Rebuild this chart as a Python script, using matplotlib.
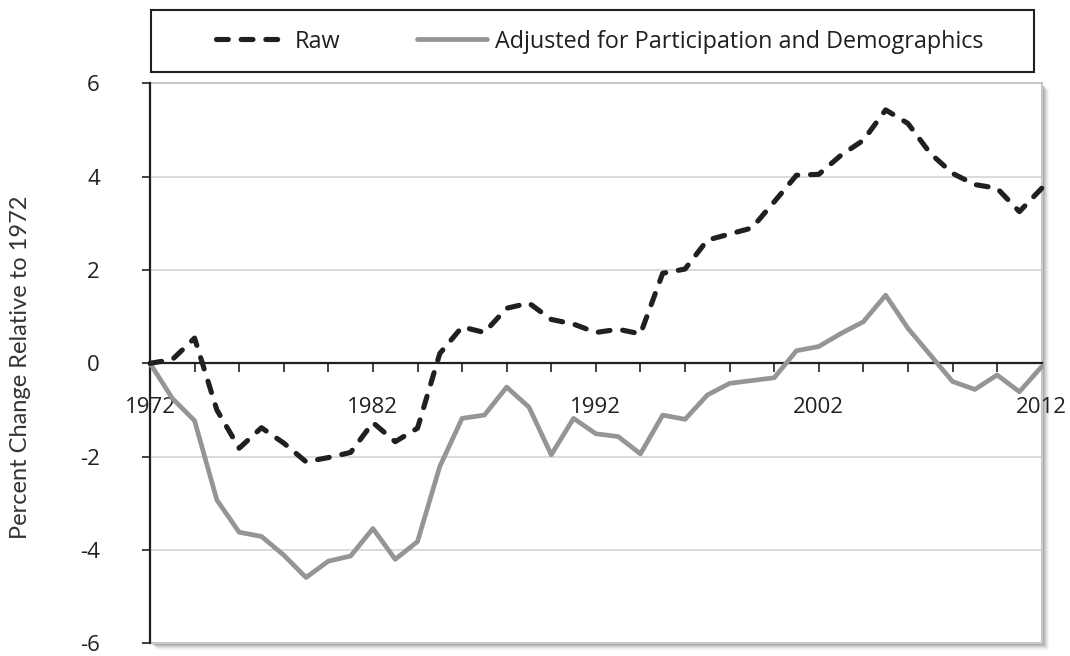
import numpy as np
import matplotlib
matplotlib.use("Agg")
import matplotlib.pyplot as plt
from matplotlib.patches import Rectangle
from matplotlib.ticker import MultipleLocator, FixedLocator

years = np.arange(1972, 2013)

raw = [0.00, 0.08, 0.54, -1.00, -1.82, -1.38, -1.71, -2.11, -2.02, -1.91,
       -1.27, -1.68, -1.39, 0.21, 0.78, 0.66, 1.18, 1.29, 0.94, 0.84,
       0.66, 0.73, 0.63, 1.93, 2.02, 2.64, 2.77, 2.90, 3.46, 4.03,
       4.05, 4.46, 4.78, 5.43, 5.14, 4.50, 4.07, 3.83, 3.75, 3.25,
       3.75]

adjusted = [0.00, -0.75, -1.23, -2.93, -3.62, -3.71, -4.11, -4.59, -4.24, -4.13,
            -3.54, -4.20, -3.82, -2.21, -1.18, -1.11, -0.51, -0.94, -1.96, -1.18,
            -1.51, -1.57, -1.94, -1.11, -1.20, -0.68, -0.43, -0.37, -0.31, 0.27,
            0.36, 0.64, 0.89, 1.46, 0.75, 0.18, -0.39, -0.56, -0.25, -0.61,
            -0.07]

label_years = [1972, 1982, 1992, 2002, 2012]
series_names = ["Raw", "Adjusted for Participation and Demographics"]

W, H = 1070, 656
plt.rcParams['font.family'] = ['Open Sans', 'DejaVu Sans']
plt.rcParams['axes.unicode_minus'] = False
fig = plt.figure(figsize=(W / 100, H / 100), dpi=100)

# plot area in pixels
L, R, T, B = 150, 1041.7, 83.3, 643.3
ax = fig.add_axes([L / W, 1 - B / H, (R - L) / W, (B - T) / H])

# drop shadow behind the plot area
for i, a in zip(range(1, 9), [0.22, 0.2, 0.17, 0.14, 0.1, 0.07, 0.04, 0.02]):
    fig.patches.append(Rectangle(((L + i) / W, 1 - (B + i) / H), (R - L) / W, (B - T) / H,
                                 transform=fig.transFigure, facecolor='#707070',
                                 edgecolor='none', alpha=a, zorder=-10))

black = '#231f20'
grey = '#939598'

ln_raw, = ax.plot(years, raw, color=black, lw=3.7, solid_capstyle='round',
                  dash_capstyle='round', clip_on=False, zorder=4)
ln_raw.set_dashes((2.3, 2.5))
ln_adj, = ax.plot(years, adjusted, color=grey, lw=3.4, solid_capstyle='round',
                  clip_on=False, zorder=3)

ax.set_xlim(1972, 2012)
ax.set_ylim(-6, 6)

for y in [-4, -2, 2, 4]:
    ax.axhline(y, color='#d4d4d4', lw=1.2, zorder=1)

ax.add_patch(Rectangle((0, 0), 1, 1, transform=ax.transAxes, fill=False,
                       edgecolor='#c8c8c8', lw=1.5, zorder=2, clip_on=False))

for s in ['top', 'right']:
    ax.spines[s].set_visible(False)
ax.spines['bottom'].set_position(('data', 0))
ax.spines['bottom'].set_color(black)
ax.spines['bottom'].set_linewidth(1.6)
ax.spines['bottom'].set_zorder(2.5)
ax.spines['left'].set_color(black)
ax.spines['left'].set_linewidth(1.6)

ax.yaxis.set_major_locator(MultipleLocator(2))
ax.xaxis.set_major_locator(FixedLocator(label_years))
ax.xaxis.set_minor_locator(MultipleLocator(2))
ax.set_xticklabels([str(y) for y in label_years])

ax.tick_params(axis='x', which='both', direction='out', length=6.5, width=1.2,
               color=black, pad=18, labelsize=16, labelcolor=black)
ax.tick_params(axis='y', direction='out', length=6, width=1.2, color=black,
               pad=30, labelsize=16, labelcolor=black)

fig.text(21 / W, 1 - 367 / H, "Percent Change Relative to 1972", rotation=90,
         ha='center', va='center', fontsize=17, family=['Lato', 'DejaVu Sans'],
         color='#333333')

# legend box
bx0, bx1, by0, by1 = 151, 1034, 10, 72
fig.patches.append(Rectangle((bx0 / W, 1 - by1 / H), (bx1 - bx0) / W, (by1 - by0) / H,
                             transform=fig.transFigure, fill=False, edgecolor=black,
                             lw=1.5, zorder=5))
fig.legend([ln_raw, ln_adj], series_names, loc='center', ncol=2, frameon=False,
           bbox_to_anchor=(600 / W, 1 - 41.5 / H), fontsize=16.8, handlelength=3.0,
           handletextpad=0.35, columnspacing=3.3, labelcolor=black)

fig.savefig("out.png", dpi=100)
